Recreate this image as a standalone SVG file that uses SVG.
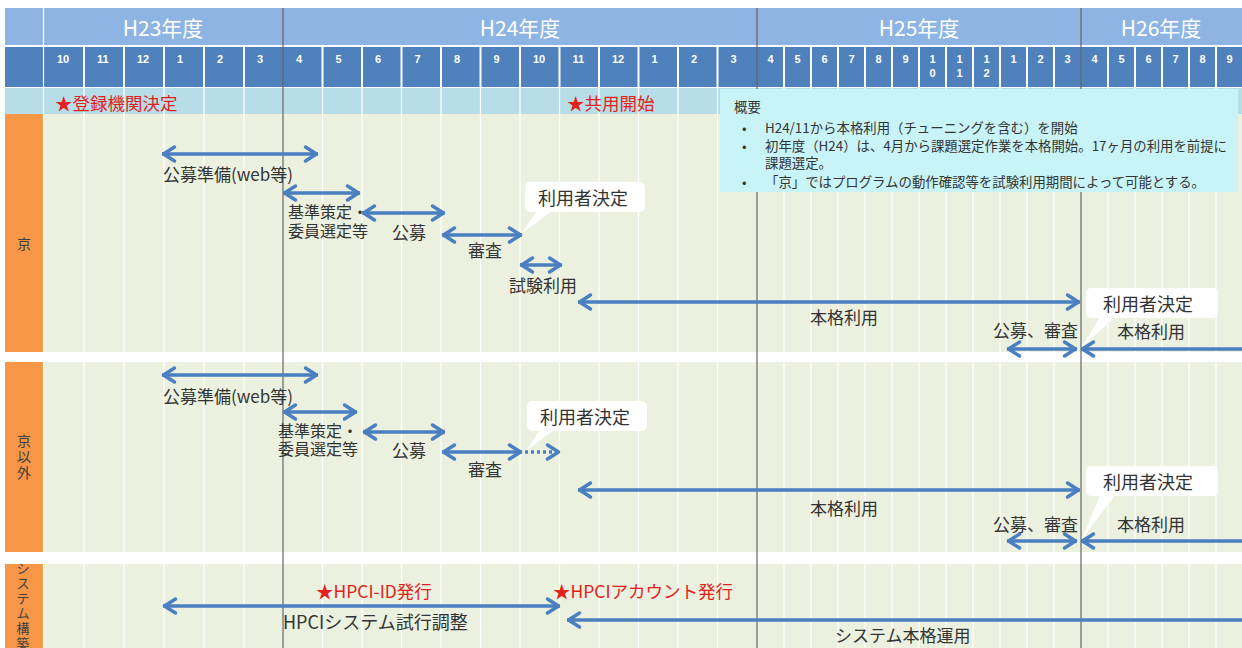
<svg xmlns="http://www.w3.org/2000/svg" width="1242" height="648" viewBox="0 0 1242 648">
<defs>
<style>
.t{font-family:"Noto Sans CJK JP","Noto Sans",sans-serif;font-size:17px;fill:#333;dominant-baseline:central}
.s16{font-size:16px}
.s18{font-size:18px}
.red{fill:#e3211c;font-size:17.5px}
.hdr{font-family:"Noto Sans CJK JP","Noto Sans",sans-serif;font-size:21px;fill:#fff;text-anchor:middle;dominant-baseline:central}
.mon{font-family:"Liberation Sans","Noto Sans",sans-serif;font-size:11px;font-weight:bold;fill:#fff;dominant-baseline:central}
.mc{text-anchor:middle}
.side{font-family:"Noto Sans CJK JP","Noto Sans",sans-serif;font-size:14px;fill:#404040;text-anchor:middle;dominant-baseline:central}
.sv{font-size:13px}
.ov{font-family:"Noto Sans CJK JP","Noto Sans",sans-serif;font-size:13.4px;fill:#333;dominant-baseline:central}
.arr{stroke:#4a7fc1;stroke-width:3.5;fill:none;marker-start:url(#ah);marker-end:url(#ah)}
.arrL{stroke:#4a7fc1;stroke-width:3.5;fill:none;marker-start:url(#ah)}
.arrD{stroke:#4a7fc1;stroke-width:3.5;fill:none;stroke-dasharray:3 3;marker-end:url(#ah)}
.wl{stroke:#fff;stroke-width:1.2}
.wl2{stroke:#fff;stroke-width:2}
.yl{stroke:#666;stroke-width:1.2}
.co{fill:#fff}
</style>
<marker id="ah" markerUnits="userSpaceOnUse" markerWidth="24" markerHeight="24" viewBox="-18 -12 24 24" refX="0" refY="0" orient="auto-start-reverse" overflow="visible">
<path d="M-12.5,-7 L-1.5,0 L-12.5,7" fill="none" stroke="#4a7fc1" stroke-width="3.5" stroke-linejoin="round" stroke-linecap="round"/>
</marker>
<clipPath id="sysclip"><rect x="5" y="564" width="38" height="84"/></clipPath>
</defs>
<rect width="1242" height="648" fill="#fff"/>
<g id="grid">
<rect x="5" y="8" width="1237" height="37" fill="#8db4e2"/>
<rect x="5" y="47" width="1237" height="40" fill="#4f81bd"/>
<rect x="5" y="88" width="1237" height="26" fill="#b7dee8"/>
<rect x="44" y="114" width="1198" height="238" fill="#ebf1de"/>
<rect x="44" y="362" width="1198" height="190" fill="#ebf1de"/>
<rect x="44" y="564" width="1198" height="84" fill="#ebf1de"/>
<rect x="5" y="114" width="38" height="238" fill="#f79646"/>
<rect x="5" y="362" width="38" height="190" fill="#f79646"/>
<rect x="5" y="564" width="38" height="84" fill="#f79646"/>
<line class="wl" x1="43.5" y1="8" x2="43.5" y2="648"/>
<line class="wl2" x1="5" y1="46" x2="1242" y2="46"/>
<g class="wl2">
<line x1="84" y1="47" x2="84" y2="87"/><line x1="124" y1="47" x2="124" y2="87"/><line x1="164" y1="47" x2="164" y2="87"/><line x1="204" y1="47" x2="204" y2="87"/><line x1="244" y1="47" x2="244" y2="87"/>
<line x1="322.5" y1="47" x2="322.5" y2="87"/><line x1="362" y1="47" x2="362" y2="87"/><line x1="401.5" y1="47" x2="401.5" y2="87"/><line x1="441" y1="47" x2="441" y2="87"/><line x1="480.5" y1="47" x2="480.5" y2="87"/><line x1="520" y1="47" x2="520" y2="87"/><line x1="559.5" y1="47" x2="559.5" y2="87"/><line x1="599" y1="47" x2="599" y2="87"/><line x1="638.5" y1="47" x2="638.5" y2="87"/><line x1="678" y1="47" x2="678" y2="87"/><line x1="717.5" y1="47" x2="717.5" y2="87"/>
<line x1="784" y1="47" x2="784" y2="87"/><line x1="811" y1="47" x2="811" y2="87"/><line x1="838" y1="47" x2="838" y2="87"/><line x1="865" y1="47" x2="865" y2="87"/><line x1="892" y1="47" x2="892" y2="87"/><line x1="919" y1="47" x2="919" y2="87"/><line x1="946" y1="47" x2="946" y2="87"/><line x1="973" y1="47" x2="973" y2="87"/><line x1="1000" y1="47" x2="1000" y2="87"/><line x1="1027" y1="47" x2="1027" y2="87"/><line x1="1054" y1="47" x2="1054" y2="87"/>
<line x1="1108" y1="47" x2="1108" y2="87"/><line x1="1135" y1="47" x2="1135" y2="87"/><line x1="1162" y1="47" x2="1162" y2="87"/><line x1="1189" y1="47" x2="1189" y2="87"/><line x1="1216" y1="47" x2="1216" y2="87"/>
</g>
<line x1="5" y1="87.5" x2="1242" y2="87.5" class="wl"/>
<g class="wl">
<line x1="84" y1="88" x2="84" y2="648"/><line x1="124" y1="88" x2="124" y2="648"/><line x1="164" y1="88" x2="164" y2="648"/><line x1="204" y1="88" x2="204" y2="648"/><line x1="244" y1="88" x2="244" y2="648"/>
<line x1="322.5" y1="88" x2="322.5" y2="648"/><line x1="362" y1="88" x2="362" y2="648"/><line x1="401.5" y1="88" x2="401.5" y2="648"/><line x1="441" y1="88" x2="441" y2="648"/><line x1="480.5" y1="88" x2="480.5" y2="648"/><line x1="520" y1="88" x2="520" y2="648"/><line x1="559.5" y1="88" x2="559.5" y2="648"/><line x1="599" y1="88" x2="599" y2="648"/><line x1="638.5" y1="88" x2="638.5" y2="648"/><line x1="678" y1="88" x2="678" y2="648"/><line x1="717.5" y1="88" x2="717.5" y2="648"/>
<line x1="784" y1="88" x2="784" y2="648"/><line x1="811" y1="88" x2="811" y2="648"/><line x1="838" y1="88" x2="838" y2="648"/><line x1="865" y1="88" x2="865" y2="648"/><line x1="892" y1="88" x2="892" y2="648"/><line x1="919" y1="88" x2="919" y2="648"/><line x1="946" y1="88" x2="946" y2="648"/><line x1="973" y1="88" x2="973" y2="648"/><line x1="1000" y1="88" x2="1000" y2="648"/><line x1="1027" y1="88" x2="1027" y2="648"/><line x1="1054" y1="88" x2="1054" y2="648"/>
<line x1="1108" y1="88" x2="1108" y2="648"/><line x1="1135" y1="88" x2="1135" y2="648"/><line x1="1162" y1="88" x2="1162" y2="648"/><line x1="1189" y1="88" x2="1189" y2="648"/><line x1="1216" y1="88" x2="1216" y2="648"/>
</g>
<rect x="0" y="352" width="1242" height="10" fill="#fff"/>
<rect x="0" y="552" width="1242" height="12" fill="#fff"/>
<line class="yl" x1="283" y1="8" x2="283" y2="648"/>
<line class="yl" x1="757" y1="8" x2="757" y2="648"/>
<line class="yl" x1="1081" y1="8" x2="1081" y2="648"/>
</g>
<g id="header">
<text class="hdr" x="163" y="27">H23年度</text>
<text class="hdr" x="520" y="27">H24年度</text>
<text class="hdr" x="919" y="27">H25年度</text>
<text class="hdr" x="1161" y="27">H26年度</text>
<text class="mon" x="57" y="59">10</text><text class="mon" x="97" y="59">11</text><text class="mon" x="137" y="59">12</text><text class="mon" x="177" y="59">1</text><text class="mon" x="217" y="59">2</text><text class="mon" x="257" y="59">3</text>
<text class="mon" x="296" y="59">4</text><text class="mon" x="335.5" y="59">5</text><text class="mon" x="375" y="59">6</text><text class="mon" x="414.5" y="59">7</text><text class="mon" x="454" y="59">8</text><text class="mon" x="493.5" y="59">9</text><text class="mon" x="533" y="59">10</text><text class="mon" x="572.5" y="59">11</text><text class="mon" x="612" y="59">12</text><text class="mon" x="651.5" y="59">1</text><text class="mon" x="691" y="59">2</text><text class="mon" x="730.5" y="59">3</text>
<g>
<text class="mon mc" x="770.5" y="59">4</text><text class="mon mc" x="797.5" y="59">5</text><text class="mon mc" x="824.5" y="59">6</text><text class="mon mc" x="851.5" y="59">7</text><text class="mon mc" x="878.5" y="59">8</text><text class="mon mc" x="905.5" y="59">9</text>
<text class="mon mc" x="932.5" y="59">1<tspan x="932.5" dy="14">0</tspan></text>
<text class="mon mc" x="959.5" y="59">1<tspan x="959.5" dy="14">1</tspan></text>
<text class="mon mc" x="986.5" y="59">1<tspan x="986.5" dy="14">2</tspan></text>
<text class="mon mc" x="1013.5" y="59">1</text><text class="mon mc" x="1040.5" y="59">2</text><text class="mon mc" x="1067.5" y="59">3</text>
<text class="mon mc" x="1094.5" y="59">4</text><text class="mon mc" x="1121.5" y="59">5</text><text class="mon mc" x="1148.5" y="59">6</text><text class="mon mc" x="1175.5" y="59">7</text><text class="mon mc" x="1202.5" y="59">8</text><text class="mon mc" x="1229.5" y="59">9</text>
</g>
</g>
<g id="milestones">
<text class="t red" x="55" y="102">★登録機関決定</text>
<text class="t red" x="567" y="102">★共用開始</text>
</g>
<g id="overview">
<rect x="720" y="89" width="518" height="103" fill="#c9f4f7"/>
<text class="ov" x="734" y="106">概要</text>
<text class="ov" x="742" y="127">•</text><text class="ov" x="765" y="127">H24/11から本格利用（チューニングを含む）を開始</text>
<text class="ov" x="742" y="145">•</text><text class="ov" x="765" y="145">初年度（H24）は、4月から課題選定作業を本格開始。17ヶ月の利用を前提に<tspan x="765" dy="17">課題選定。</tspan></text>
<text class="ov" x="742" y="181">•</text><text class="ov" x="765" y="181">「京」ではプログラムの動作確認等を試験利用期間によって可能とする。</text>
</g>
<g id="side-labels">
<text class="side" x="24" y="243">京</text>
<g id="side-kei-igai"><text class="side" x="24" y="440">京<tspan x="24" dy="16">以</tspan><tspan x="24" dy="16">外</tspan></text></g>
<g id="side-system" clip-path="url(#sysclip)"><text class="side sv" x="23" y="567">シ<tspan x="23" dy="15">ス</tspan><tspan x="23" dy="15">テ</tspan><tspan x="23" dy="15">ム</tspan><tspan x="23" dy="15">構</tspan><tspan x="23" dy="14.5">築</tspan></text></g>
</g>
<g id="callouts">
<g id="callout-k1"><rect class="co" x="525" y="182" width="120" height="30" rx="5"/><polygon class="co" points="537,211 522,233 552,211"/><text class="t s18" x="538" y="197">利用者決定</text></g>
<g id="callout-k2"><rect class="co" x="1086" y="288" width="132" height="30" rx="5"/><polygon class="co" points="1100,317 1082,347 1115,317"/><text class="t s18" x="1103" y="303">利用者決定</text></g>
<g id="callout-o1"><rect class="co" x="527" y="401" width="120" height="30" rx="5"/><polygon class="co" points="540,430 526,451 554,430"/><text class="t s18" x="540" y="416">利用者決定</text></g>
<g id="callout-o2"><rect class="co" x="1086" y="466" width="132" height="30" rx="5"/><polygon class="co" points="1100,495 1082,539 1115,495"/><text class="t s18" x="1103" y="481">利用者決定</text></g>
</g>
<g id="connectors">
<line class="arr" x1="162" y1="154" x2="318" y2="154"/>
<line class="arr" x1="283" y1="193" x2="360" y2="193"/>
<line class="arr" x1="362" y1="213" x2="445" y2="213"/>
<line class="arr" x1="442" y1="235" x2="522" y2="235"/>
<line class="arr" x1="520" y1="265" x2="562" y2="265"/>
<line class="arr" x1="578" y1="302" x2="1080" y2="302"/>
<line class="arr" x1="1007" y1="349" x2="1077" y2="349"/>
<line class="arrL" x1="1081" y1="349" x2="1245" y2="349"/>
<line class="arr" x1="162" y1="375" x2="318" y2="375"/>
<line class="arr" x1="283" y1="412" x2="357" y2="412"/>
<line class="arr" x1="363" y1="432" x2="445" y2="432"/>
<line class="arr" x1="442" y1="452" x2="522" y2="452"/>
<line class="arrD" x1="525" y1="452" x2="560" y2="452"/>
<line class="arr" x1="578" y1="490" x2="1080" y2="490"/>
<line class="arr" x1="1007" y1="541" x2="1077" y2="541"/>
<line class="arrL" x1="1081" y1="541" x2="1245" y2="541"/>
<line class="arr" x1="163" y1="606" x2="560" y2="606"/>
<line class="arrL" x1="567" y1="620" x2="1245" y2="620"/>
</g>
<g id="labels-kei">
<text class="t" x="163" y="173">公募準備(web等)</text>
<text class="t s16" x="288" y="211">基準策定・<tspan x="288" dy="19">委員選定等</tspan></text>
<text class="t" x="392" y="231">公募</text>
<text class="t" x="468" y="249">審査</text>
<text class="t" x="509" y="284">試験利用</text>
<text class="t" x="810" y="316">本格利用</text>
<text class="t" x="993" y="329">公募、審査</text>
<text class="t" x="1117" y="330">本格利用</text>
</g>
<g id="labels-other">
<text class="t" x="163" y="395">公募準備(web等)</text>
<text class="t s16" x="278" y="430">基準策定・<tspan x="278" dy="18">委員選定等</tspan></text>
<text class="t" x="392" y="449">公募</text>
<text class="t" x="468" y="468">審査</text>
<text class="t" x="810" y="507">本格利用</text>
<text class="t" x="993" y="523">公募、審査</text>
<text class="t" x="1117" y="523">本格利用</text>
</g>
<g id="labels-system">
<text class="t red" x="316" y="590">★HPCI-ID発行</text>
<text class="t s18" x="283" y="621">HPCIシステム試行調整</text>
<text class="t red" x="553" y="590">★HPCIアカウント発行</text>
<text class="t" x="835" y="634">システム本格運用</text>
</g>
</svg>
